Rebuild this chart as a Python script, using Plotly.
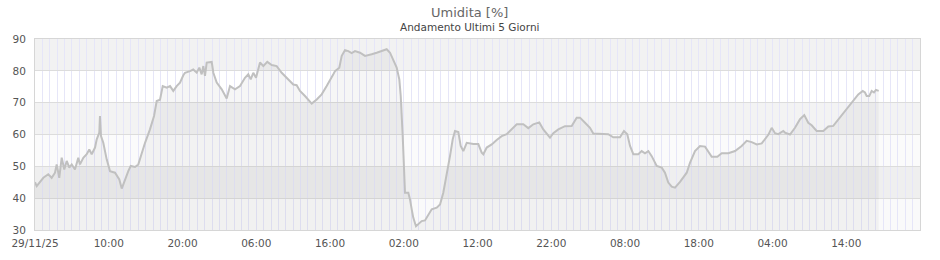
import pandas as pd
import plotly.graph_objects as go

start = pd.Timestamp("2025-11-29 00:00")

hours_since_start = [
    0.00, 0.23, 1.13, 1.80, 2.26, 2.71, 2.94, 3.29, 3.62, 3.97, 4.30, 4.65, 4.98, 5.42, 5.87,
    6.10, 6.55, 7.01, 7.36, 7.69, 8.14, 8.37, 8.72, 8.81, 8.95, 9.26, 9.72, 10.17, 10.85, 11.43,
    11.76, 12.20, 12.65, 12.98, 13.56, 14.01, 14.47, 14.92, 15.59, 16.14, 16.50, 16.95, 17.32,
    17.86, 18.31, 18.75, 19.21, 19.66, 20.11, 20.34, 21.02, 21.46, 21.93, 22.28, 22.60, 22.82,
    23.05, 23.28, 23.96, 24.18, 24.64, 25.32, 25.99, 26.44, 27.12, 27.80, 28.47, 28.92, 29.25,
    29.60, 29.97, 30.51, 30.96, 31.50, 32.10, 32.77, 33.45, 34.13, 35.02, 35.48, 35.93, 36.61,
    37.52, 38.20, 38.87, 39.55, 40.23, 40.45, 40.68, 41.26, 41.59, 42.03, 42.48, 42.94, 43.39,
    44.07, 44.75, 45.19, 45.65, 46.33, 47.01, 47.69, 48.14, 48.58, 49.04, 49.40, 49.59, 49.86,
    50.03, 50.17, 50.62, 50.85, 51.08, 51.29, 51.66, 51.97, 52.43, 52.88, 53.33, 53.79, 54.47,
    54.92, 55.36, 55.82, 56.27, 56.64, 56.95, 57.40, 57.72, 58.08, 58.54, 59.43, 60.11, 60.57,
    60.79, 61.25, 61.93, 62.60, 63.28, 63.96, 64.64, 65.32, 66.21, 66.89, 67.57, 68.38, 68.92,
    69.83, 70.28, 70.96, 71.86, 72.77, 73.45, 73.90, 74.58, 75.25, 75.70, 76.61, 77.73, 78.41,
    79.32, 79.86, 80.31, 80.68, 81.13, 81.80, 82.26, 82.71, 83.16, 83.62, 84.30, 84.98, 85.42,
    85.87, 86.33, 86.78, 87.46, 88.37, 88.81, 89.49, 90.17, 90.85, 91.30, 91.76, 92.52, 93.11,
    94.01, 94.92, 95.82, 96.50, 97.18, 97.86, 98.54, 98.98, 99.43, 99.89, 100.34, 100.79,
    101.46, 101.69, 102.37, 103.05, 103.73, 104.31, 104.85, 105.31, 105.99, 106.89, 107.57,
    108.24, 109.15, 110.06, 110.96, 111.63, 112.23, 112.54, 112.77, 113.12, 113.45, 113.76,
    114.03, 114.40,
]

humidity = [
    45.0, 43.8, 46.4, 47.5, 46.4, 48.0, 50.6, 46.4, 52.7, 49.0, 51.7, 49.6, 50.6, 49.0, 52.7,
    50.6, 52.7, 53.8, 55.3, 53.8, 55.9, 58.5, 60.6, 65.8, 59.5, 57.4, 52.2, 48.5, 48.0, 45.9,
    43.0, 45.9, 48.5, 50.1, 49.8, 50.6, 54.3, 57.4, 61.6, 65.8, 70.5, 70.9, 75.2,
    74.7, 75.2, 73.7, 75.2, 76.3, 78.6, 79.4, 79.9, 80.4, 79.4, 81.0, 78.9, 81.5,
    78.4, 82.6, 82.8, 79.4, 76.3, 74.2, 71.3, 75.2, 74.2, 75.2, 77.8, 78.9, 77.3,
    79.4, 77.8, 82.6, 81.5, 82.8, 81.8, 81.5, 79.4, 77.8, 75.7, 75.5, 73.7, 72.1,
    69.7, 71.0, 72.6, 75.2, 78.4, 78.9, 79.9, 81.0, 84.7, 86.5, 86.2, 85.6, 86.2,
    85.7, 84.7, 84.9, 85.2, 85.7, 86.2, 86.8, 85.7, 83.6, 81.0, 77.3, 72.1, 59.5,
    49.0, 41.7, 41.7, 39.6, 36.5, 33.9, 31.2, 31.8, 32.8, 33.0, 34.9, 36.5, 37.0,
    38.0, 41.7, 47.0, 53.2, 58.5, 61.1, 60.8, 56.4, 54.8, 57.4, 57.0, 57.0, 54.3,
    53.8, 55.9, 56.9, 58.3, 59.5, 60.1, 61.6, 63.2, 63.2, 62.0, 63.2, 63.8, 61.6,
    59.0, 60.4, 61.6, 62.6, 62.7, 65.3, 65.3, 63.7, 62.1, 60.3, 60.3, 60.1, 59.1,
    59.1, 61.1, 60.1, 56.4, 53.8, 53.8, 54.8, 54.1, 54.8, 53.2, 50.1, 49.6, 48.0,
    44.9, 43.6, 43.3, 45.1, 48.0, 51.1, 54.8, 56.4, 56.2, 54.8, 53.0, 53.0, 54.1,
    54.1, 54.8, 56.4, 58.0, 57.6, 56.9, 57.2, 58.6, 59.9, 62.1, 60.4, 60.1,
    61.1, 60.6, 60.0, 62.1, 64.8, 66.1, 63.7, 62.9, 61.1, 61.1, 62.5,
    62.7, 65.3, 67.9, 70.5, 72.6, 73.7, 73.2, 72.1, 72.1, 73.7, 73.2,
    74.0, 73.7,
]

tick_hours = [0, 10, 20, 30, 40, 50, 60, 70, 80, 90, 100, 110]
tick_labels = ["29/11/25", "10:00", "20:00", "06:00", "16:00", "02:00",
               "12:00", "22:00", "08:00", "18:00", "04:00", "14:00"]
band_edges = [30, 40, 50, 60, 70, 80, 90]
band_colors = ["#fafafa", "#efefef", "#fbfbfb", "#f3f3f3", "#ffffff", "#f2f2f2"]

title_text = "Umidita [%]"
subtitle_text = "Andamento Ultimi 5 Giorni"

times = [start + pd.Timedelta(hours=h) for h in hours_since_start]
tickvals = [start + pd.Timedelta(hours=h) for h in tick_hours]
x_end = start + pd.Timedelta(hours=120)

fig = go.Figure()
fig.add_trace(go.Scatter(
    x=times, y=humidity, mode="lines",
    line=dict(color="#c0c0c0", width=2),
    fill="tozeroy", fillcolor="rgba(0,0,0,0.035)",
    hoverinfo="skip", showlegend=False,
))

shapes = []
for i, c in enumerate(band_colors):
    shapes.append(dict(type="rect", xref="paper", yref="y", x0=0, x1=1,
                       y0=band_edges[i], y1=band_edges[i + 1],
                       fillcolor=c, line=dict(width=0), layer="below"))

font_family = "DejaVu Sans"
fig.update_layout(
    width=940, height=260,
    margin=dict(l=35, r=20, t=39, b=30),
    paper_bgcolor="#ffffff", plot_bgcolor="#ffffff",
    shapes=shapes,
    font=dict(family=font_family, size=10, color="#555555"),
    annotations=[
        dict(text=title_text, xref="paper", yref="paper", x=0.4915, y=1.141,
             xanchor="center", yanchor="middle", showarrow=False,
             font=dict(family=font_family, size=13, color="#666666")),
        dict(text=subtitle_text, xref="paper", yref="paper", x=0.4915, y=1.063,
             xanchor="center", yanchor="middle", showarrow=False,
             font=dict(family=font_family, size=10.5, color="#444444")),
    ],
)

fig.update_xaxes(
    type="date", range=[start, x_end], automargin=False,
    tickmode="array", tickvals=tickvals, ticktext=tick_labels,
    showgrid=True, gridcolor="#e6e6f8", gridwidth=1,
    minor=dict(tickmode="linear", tick0=start, dtick=3600000,
               showgrid=True, gridcolor="#e6e6f8", gridwidth=1),
    ticks="outside", ticklen=3, tickcolor="rgba(0,0,0,0)",
    showline=True, mirror=True, linecolor="#d6d6d6", linewidth=1,
    zeroline=False, tickfont=dict(size=10.5, color="#555555"),
)
fig.update_yaxes(
    range=[30, 90], tickmode="linear", tick0=30, dtick=10, automargin=False,
    showgrid=True, gridcolor="#dcdcdc", gridwidth=1,
    ticks="outside", ticklen=6, tickcolor="rgba(0,0,0,0)",
    showline=True, mirror=True, linecolor="#d6d6d6", linewidth=1,
    zeroline=False, tickfont=dict(size=10.5, color="#555555"),
)

fig.write_html("out.html")
